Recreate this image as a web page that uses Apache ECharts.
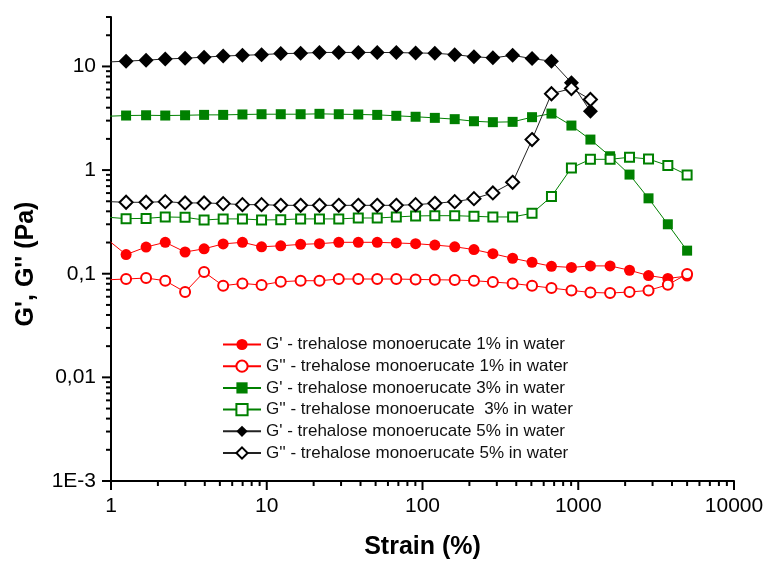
<!DOCTYPE html>
<html><head><meta charset="utf-8">
<script src="https://cdn.jsdelivr.net/npm/echarts@6/dist/echarts.min.js"></script>
<style>html,body{margin:0;padding:0;background:#fff}#c{width:766px;height:561px}</style>
</head><body><div id="c"></div>
<script>
// Strain (%) values shared by all series
const strain = [0.97, 1.25, 1.68, 2.23, 2.99, 3.96, 5.25, 6.98, 9.26, 12.3, 16.5, 21.8, 29.0, 38.7, 51.2, 67.9, 90.3, 120, 161, 214, 283, 379, 505, 673, 904, 1197, 1601, 2134, 2826, 3760, 5000];

const gp1 = [0.208, 0.153, 0.181, 0.201, 0.162, 0.174, 0.194, 0.201, 0.182, 0.186, 0.192, 0.195, 0.201, 0.201, 0.201, 0.198, 0.195, 0.189, 0.182, 0.171, 0.156, 0.141, 0.129, 0.118, 0.115, 0.119, 0.119, 0.108, 0.096, 0.090, 0.095];
const gpp1 = [0.0875, 0.0889, 0.0909, 0.0856, 0.0666, 0.1038, 0.0766, 0.0806, 0.0778, 0.0837, 0.0856, 0.0856, 0.0889, 0.0889, 0.0889, 0.0889, 0.0881, 0.0875, 0.0869, 0.0856, 0.0832, 0.0806, 0.0766, 0.0727, 0.069, 0.066, 0.0651, 0.0666, 0.069, 0.0783, 0.0993];
const gp3 = [3.31, 3.36, 3.38, 3.36, 3.38, 3.41, 3.41, 3.44, 3.46, 3.46, 3.46, 3.49, 3.46, 3.44, 3.41, 3.34, 3.27, 3.19, 3.10, 2.96, 2.90, 2.92, 3.24, 3.51, 2.69, 1.97, 1.36, 0.905, 0.534, 0.30, 0.167];
const gpp3 = [0.350, 0.340, 0.342, 0.353, 0.350, 0.330, 0.338, 0.338, 0.330, 0.332, 0.338, 0.338, 0.338, 0.345, 0.345, 0.353, 0.361, 0.363, 0.363, 0.358, 0.353, 0.353, 0.383, 0.555, 1.05, 1.27, 1.27, 1.33, 1.28, 1.105, 0.899];
const gp5 = [11.05, 11.25, 11.5, 11.8, 12.0, 12.3, 12.6, 12.8, 13.0, 13.3, 13.4, 13.65, 13.65, 13.65, 13.65, 13.6, 13.5, 13.4, 13.0, 12.4, 12.1, 12.8, 11.9, 11.25, 6.96, 3.70];
const gpp5 = [0.496, 0.489, 0.489, 0.496, 0.482, 0.482, 0.475, 0.464, 0.464, 0.457, 0.457, 0.457, 0.457, 0.457, 0.457, 0.457, 0.464, 0.478, 0.496, 0.530, 0.602, 0.762, 1.97, 5.45, 6.13, 4.80];

const seriesNames = [
  "G' - trehalose monoerucate 1% in water",
  "G'' - trehalose monoerucate 1% in water",
  "G' - trehalose monoerucate 3% in water",
  "G'' - trehalose monoerucate  3% in water",
  "G' - trehalose monoerucate 5% in water",
  "G'' - trehalose monoerucate 5% in water"
];

const xTickValues = [1, 10, 100, 1000, 10000];
const xTickLabels = ['1', '10', '100', '1000', '10000'];
const yTickValues = [0.001, 0.01, 0.1, 1, 10];
const yTickLabels = ['1E-3', '0,01', '0,1', '1', '10'];
const minorMultipliers = [2, 3, 4, 5, 6, 7, 8, 9];

const X_MIN = 1, X_MAX = 10000, Y_MIN = 0.001, Y_MAX = 30;
const FONT = 'Liberation Sans, Arial, sans-serif';

function labelFor(values, labels) {
  return function (v) {
    for (let i = 0; i < values.length; i++) {
      if (Math.abs(Math.log10(v) - Math.log10(values[i])) < 1e-6) return labels[i];
    }
    return '';
  };
}

// tick marks: [x, y, isYAxis, isMajor]
const tickData = [];
xTickValues.forEach(v => tickData.push([v, Y_MIN, 0, 1]));
for (let d = 1; d < X_MAX; d *= 10) minorMultipliers.forEach(m => tickData.push([m * d, Y_MIN, 0, 0]));
yTickValues.forEach(v => tickData.push([X_MIN, v, 1, 1]));
for (let d = Y_MIN; d < Y_MAX; d *= 10) minorMultipliers.forEach(m => { if (m * d <= Y_MAX * 1.0001) tickData.push([X_MIN, m * d, 1, 0]); });

function mk(name, vals, symbol, size, color, lineColor, empty) {
  return {
    type: 'line', name: name,
    data: vals.map((v, i) => [strain[i], v]),
    symbol: symbol, symbolSize: size,
    showAllSymbol: true,
    clip: true,
    lineStyle: { color: lineColor, width: 1 },
    itemStyle: empty ? { color: color, borderWidth: 1.3 } : { color: color, borderWidth: 0 },
    emphasis: { disabled: true },
    animation: false
  };
}

const chart = echarts.init(document.getElementById('c'), null, { renderer: 'canvas' });
chart.setOption({
  backgroundColor: '#fff',
  animation: false,
  grid: { left: 111, right: 32, top: 17, bottom: 80, containLabel: false, outerBoundsMode: 'none' },
  legend: {
    orient: 'vertical', left: 217, top: 331,
    itemWidth: 38, itemHeight: 14, itemGap: 4.7,
    textStyle: { fontSize: 17, color: '#111', fontFamily: FONT },
    data: seriesNames
  },
  xAxis: {
    type: 'log', logBase: 10, min: X_MIN, max: X_MAX,
    name: 'Strain (%)', nameLocation: 'middle', nameGap: 54,
    nameTextStyle: { fontSize: 25, fontWeight: 'bold', color: '#000', fontFamily: FONT },
    axisLine: { show: true, lineStyle: { color: '#000', width: 2 } },
    axisTick: { show: false },
    splitLine: { show: false },
    axisLabel: { fontSize: 21, color: '#000', fontFamily: FONT, margin: 15, formatter: labelFor(xTickValues, xTickLabels) }
  },
  yAxis: {
    type: 'log', logBase: 10, min: Y_MIN, max: Y_MAX,
    name: "G', G'' (Pa)", nameLocation: 'middle', nameGap: 72,
    nameTextStyle: { fontSize: 25, fontWeight: 'bold', color: '#000', fontFamily: FONT, padding: [0, 30, 0, 0] },
    axisLine: { show: true, lineStyle: { color: '#000', width: 2 } },
    axisTick: { show: false },
    splitLine: { show: false },
    axisLabel: { fontSize: 21, color: '#000', fontFamily: FONT, margin: 15, formatter: labelFor(yTickValues, yTickLabels) }
  },
  series: [
    mk(seriesNames[0], gp1, 'circle', 11, '#ff0000', '#ff0000', false),
    mk(seriesNames[1], gpp1, 'emptyCircle', 10, '#ff0000', '#ff0000', true),
    mk(seriesNames[2], gp3, 'rect', 10, '#008000', '#008000', false),
    mk(seriesNames[3], gpp3, 'emptyRect', 9, '#008000', '#008000', true),
    mk(seriesNames[4], gp5, 'diamond', 15, '#000000', '#222222', false),
    mk(seriesNames[5], gpp5, 'emptyDiamond', 13, '#000000', '#222222', true),
    {
      type: 'custom', name: 'ticks', silent: true, clip: false, z: 10,
      data: tickData,
      encode: { x: 0, y: 1 },
      renderItem: function (params, api) {
        const p = api.coord([api.value(0), api.value(1)]);
        const isY = api.value(2) === 1;
        const len = api.value(3) === 1 ? 9 : 5;
        const shape = isY ? { x1: p[0] - len, y1: p[1], x2: p[0], y2: p[1] }
                          : { x1: p[0], y1: p[1], x2: p[0], y2: p[1] + len };
        return { type: 'line', shape: shape, style: { stroke: '#000', lineWidth: 2 } };
      },
      animation: false
    }
  ]
});
</script>
</body></html>
